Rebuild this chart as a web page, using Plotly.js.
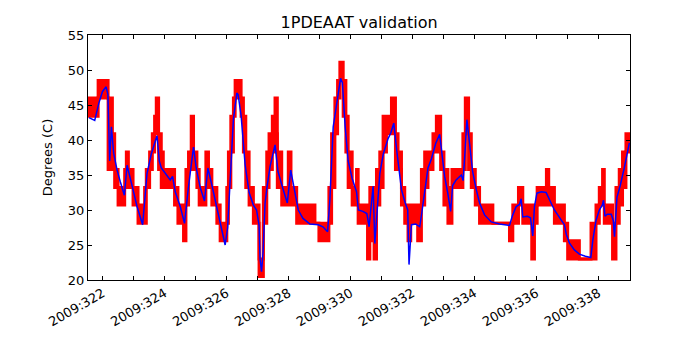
<!DOCTYPE html>
<html>
<head>
<meta charset="utf-8">
<script src="https://cdn.plot.ly/plotly-3.0.1.min.js"></script>
<style>
  body { margin: 0; background: #fff; }
  #plot { width: 700px; height: 350px; }
</style>
</head>
<body>
<div id="plot"></div>
<script>
// day of year 2009 (fractional) for the quantized telemetry band
const red_t = [321.52, 321.852, 322.174, 322.248, 322.312, 322.386, 322.496, 322.709, 322.763, 322.828,
  322.979, 323.140, 323.353, 323.407, 323.514, 323.601, 323.675, 323.729, 323.804, 323.890,
  323.955, 324.319, 324.428, 324.609, 324.686, 324.770, 324.857, 324.931, 325.040, 325.114,
  325.330, 325.414, 325.523, 325.684, 325.791, 326.006, 326.058, 326.135, 326.219, 326.274,
  326.467, 326.541, 326.618, 326.725, 326.863, 327.047, 327.185, 327.295, 327.369, 327.475,
  327.562, 327.636, 327.778, 327.990, 328.077, 328.261, 328.850, 328.979, 329.301, 329.388,
  329.494, 329.581, 329.655, 329.762, 329.849, 329.923, 330.052, 330.193, 330.245, 330.548,
  330.622, 330.760, 330.837, 330.944, 331.050, 331.159, 331.320, 331.449, 331.533, 331.643,
  331.749, 331.855, 331.942, 332.167, 332.287, 332.393, 332.499, 332.660, 332.770, 332.908,
  333.014, 333.143, 333.272, 333.626, 333.704, 333.810, 333.897, 334.026, 334.164, 334.593,
  335.130, 335.237, 335.420, 335.559, 335.849, 335.936, 336.023, 336.322, 336.396, 336.580,
  336.902, 337.008, 337.385, 337.762, 337.923, 338.029, 338.135, 338.190, 338.457, 338.567,
  338.673, 338.779, 338.889, 339.02];

// lower / upper telemetry level in each interval (deg C)
const red_lo = [43.4, 46.0, 35.8, 40.9, 35.8, 33.2, 30.7, 33.2, 33.2, 33.2,
  30.7, 28.1, 28.1, 33.2, 35.8, 38.3, 40.9, 40.9, 35.8, 33.2,
  33.2, 30.7, 28.1, 25.6, 30.7, 35.8, 38.3, 35.8, 33.2, 30.7,
  33.2, 33.2, 30.7, 28.1, 25.6, 28.1, 33.2, 38.3, 43.4, 46.0,
  43.4, 38.3, 33.2, 30.7, 28.1, 20.5, 28.1, 33.2, 35.8, 38.3,
  40.9, 33.2, 30.7, 33.2, 30.7, 28.1, 28.1, 25.6, 28.1, 33.2,
  40.9, 46.0, 48.5, 43.4, 38.3, 33.2, 30.7, 30.7, 28.1, 23.0,
  25.6, 23.0, 30.7, 33.2, 38.3, 40.9, 40.9, 35.8, 35.8, 30.7,
  28.1, 25.6, 28.1, 25.6, 30.7, 33.2, 35.8, 38.3, 38.3, 35.8,
  30.7, 28.1, 33.2, 35.8, 40.9, 35.8, 33.2, 30.7, 28.1, 28.1,
  25.6, 28.1, 30.7, 28.1, 23.0, 28.1, 30.7, 30.7, 30.7, 28.1,
  25.6, 23.0, 23.0, 23.0, 28.1, 30.7, 30.7, 28.1, 23.0, 28.1,
  30.7, 33.2, 38.3, 38.3];

const red_hi = [46.0, 48.5, 46.0, 46.0, 40.9, 35.8, 33.2, 35.8, 38.3, 35.8,
  33.2, 30.7, 33.2, 35.8, 38.3, 40.9, 43.4, 46.0, 40.9, 38.3,
  35.8, 33.2, 30.7, 30.7, 35.8, 38.3, 43.4, 38.3, 35.8, 33.2,
  38.3, 35.8, 33.2, 30.7, 28.1, 33.2, 38.3, 43.4, 46.0, 48.5,
  46.0, 43.4, 38.3, 33.2, 30.7, 23.0, 33.2, 38.3, 40.9, 43.4,
  46.0, 38.3, 33.2, 38.3, 33.2, 30.7, 28.1, 28.1, 33.2, 40.9,
  46.0, 48.5, 51.1, 48.5, 43.4, 38.3, 33.2, 35.8, 30.7, 30.7,
  33.2, 28.1, 35.8, 38.3, 43.4, 43.4, 46.0, 40.9, 38.3, 33.2,
  30.7, 28.1, 30.7, 30.7, 35.8, 38.3, 38.3, 40.9, 43.4, 38.3,
  35.8, 33.2, 35.8, 40.9, 46.0, 40.9, 35.8, 33.2, 30.7, 28.1,
  28.1, 30.7, 33.2, 30.7, 28.1, 30.7, 33.2, 35.8, 33.2, 30.7,
  28.1, 25.6, 23.0, 28.1, 30.7, 33.2, 35.8, 30.7, 28.1, 33.2,
  35.8, 38.3, 40.9, 40.9];

// smoothed validation curve
const blue_t = [321.556, 321.742, 321.871, 321.990, 322.110, 322.167, 322.225, 322.280, 322.354, 322.464,
  322.570, 322.699, 322.786, 322.860, 322.957, 323.108, 323.288, 323.430, 323.568, 323.752,
  323.826, 323.891, 324.019, 324.180, 324.254, 324.341, 324.502, 324.641, 324.760, 324.857,
  324.931, 325.018, 325.147, 325.285, 325.395, 325.501, 325.630, 325.791, 325.952, 326.032,
  326.113, 326.219, 326.329, 326.370, 326.467, 326.596, 326.725, 326.863, 326.966, 327.047,
  327.079, 327.127, 327.176, 327.240, 327.304, 327.401, 327.562, 327.659, 327.820, 327.958,
  328.068, 328.142, 328.312, 328.464, 328.689, 328.957, 329.108, 329.259, 329.333, 329.440,
  329.559, 329.678, 329.736, 329.826, 329.923, 330.052, 330.193, 330.251, 330.396, 330.525,
  330.599, 330.670, 330.728, 330.783, 330.863, 330.944, 331.056, 331.211, 331.298, 331.395,
  331.491, 331.643, 331.765, 331.845, 331.887, 331.965, 332.103, 332.232, 332.296, 332.393,
  332.499, 332.609, 332.747, 332.876, 332.940, 333.037, 333.134, 333.230, 333.295, 333.407,
  333.575, 333.633, 333.697, 333.755, 333.842, 333.939, 334.058, 334.164, 334.325, 334.541,
  334.808, 335.130, 335.227, 335.346, 335.453, 335.507, 335.559, 335.710, 335.807, 335.881,
  335.936, 336.016, 336.161, 336.312, 336.419, 336.580, 336.796, 336.902, 336.966, 337.063,
  337.224, 337.385, 337.578, 337.755, 337.820, 337.923, 338.029, 338.126, 338.164, 338.213,
  338.287, 338.415, 338.480, 338.519, 338.599, 338.705, 338.834, 338.940, 339.0];

const blue_v = [43.2, 42.8, 45.2, 46.9, 47.6, 46.5, 37.0, 41.9, 38.1, 35.7,
  34.0, 32.1, 36.4, 35.2, 33.3, 30.5, 27.9, 35.2, 38.0, 40.6,
  37.0, 36.0, 35.2, 34.3, 34.8, 32.6, 30.5, 28.1, 33.0, 36.5,
  39.0, 36.0, 33.2, 31.3, 36.0, 34.0, 31.5, 28.5, 25.0, 27.5,
  33.5, 43.0, 46.7, 46.5, 43.5, 36.5, 32.5, 30.7, 30.0, 27.8,
  23.0, 21.2, 24.0, 31.0, 33.3, 36.2, 39.3, 35.5, 33.0, 31.0,
  35.7, 34.0, 30.0, 28.8, 28.0, 27.9, 27.6, 26.9, 31.5, 41.9,
  45.6, 48.8, 48.2, 41.9, 37.0, 34.5, 32.6, 30.0, 29.8, 29.5,
  27.6, 30.5, 33.4, 25.2, 30.5, 35.2, 38.0, 40.2, 41.0, 42.4,
  38.5, 32.9, 31.0, 30.0, 22.2, 27.9, 28.0, 27.6, 29.5, 33.0,
  36.0, 37.3, 39.5, 40.8, 38.5, 34.8, 32.5, 29.8, 33.5, 34.3,
  35.0, 34.2, 38.5, 42.9, 39.5, 35.5, 32.9, 31.0, 29.3, 28.3,
  28.0, 27.8, 29.2, 30.5, 30.8, 31.6, 29.0, 29.1, 28.9, 26.3,
  30.5, 32.4, 32.6, 32.5, 31.5, 30.0, 28.6, 27.9, 26.5, 25.3,
  24.3, 23.7, 23.4, 23.2, 25.7, 28.5, 30.0, 30.7, 31.4, 29.1,
  29.4, 29.4, 28.5, 26.2, 31.8, 33.5, 36.0, 38.1, 39.6];

const tick_vals = [322, 323, 324, 325, 326, 327, 328, 329, 330, 331, 332, 333, 334, 335, 336, 337, 338];
const tick_text = ['2009:322', '', '2009:324', '', '2009:326', '', '2009:328', '', '2009:330', '',
  '2009:332', '', '2009:334', '', '2009:336', '', '2009:338'];

const data = [
  {
    x: red_t, y: red_lo,
    mode: 'lines', type: 'scatter',
    line: { color: 'red', width: 3, shape: 'hv' },
    hoverinfo: 'skip'
  },
  {
    x: red_t, y: red_hi,
    mode: 'lines', type: 'scatter',
    fill: 'tonexty', fillcolor: 'red',
    line: { color: 'red', width: 3, shape: 'hv' },
    hoverinfo: 'skip'
  },
  {
    x: blue_t, y: blue_v,
    mode: 'lines', type: 'scatter',
    line: { color: 'blue', width: 1.5 }
  }
];

const layout = {
  width: 700,
  height: 350,
  margin: { l: 88, r: 70, t: 35, b: 70 },
  paper_bgcolor: 'white',
  plot_bgcolor: 'white',
  showlegend: false,
  font: { family: 'DejaVu Sans', size: 12, color: 'black' },
  title: {
    text: '1PDEAAT validation',
    font: { size: 16 },
    x: 0.513, xanchor: 'center',
    y: 0.937, yanchor: 'middle'
  },
  xaxis: {
    range: [321.525, 339.02],
    tickvals: tick_vals,
    ticktext: tick_text,
    tickangle: -30,
    ticks: 'inside',
    ticklen: 4,
    tickcolor: 'black',
    mirror: 'ticks',
    showline: true,
    linecolor: 'black',
    linewidth: 1,
    showgrid: false,
    zeroline: false,
    tickfont: { size: 13 }
  },
  yaxis: {
    range: [20, 55],
    dtick: 5,
    ticks: 'inside',
    ticklen: 4,
    tickcolor: 'black',
    mirror: 'ticks',
    showline: true,
    linecolor: 'black',
    linewidth: 1,
    showgrid: false,
    zeroline: false,
    tickfont: { size: 13 },
    title: { text: 'Degrees (C)', font: { size: 13 }, standoff: 12 }
  }
};

Plotly.newPlot('plot', data, layout, { staticPlot: true });
</script>
</body>
</html>
